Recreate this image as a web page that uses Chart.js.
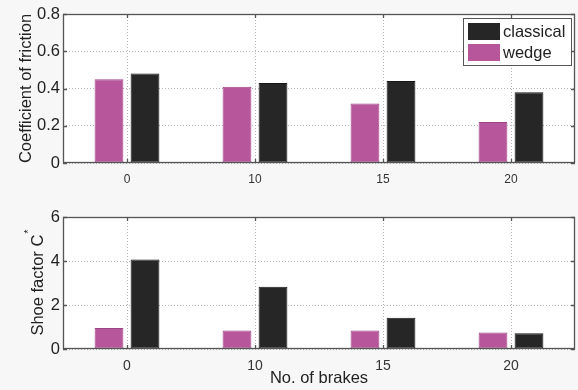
<!DOCTYPE html>
<html>
<head>
<meta charset="utf-8">
<title>Brakes – friction and shoe factor</title>
<script src="https://cdn.jsdelivr.net/npm/chart.js@4.4.1/dist/chart.umd.min.js"></script>
<style>
  html, body { margin: 0; padding: 0; background: #f7f7f7; }
  .wrap { position: relative; width: 578px; height: 390px; }
  canvas { position: absolute; left: 0; }
  #frictionChart { top: 0; }
  #shoeChart { top: 195px; }
</style>
</head>
<body>
<div class="wrap">
  <canvas id="frictionChart" width="578" height="195"></canvas>
  <canvas id="shoeChart" width="578" height="195"></canvas>
</div>
<script>
"use strict";

// ─── Data ─────────────────────────────────────────────────
const brakes            = ["0", "10", "15", "20"];
const frictionWedge     = [0.45, 0.41, 0.32, 0.22];
const frictionClassical = [0.48, 0.43, 0.44, 0.38];
const shoeWedge         = [0.96, 0.84, 0.84, 0.75];
const shoeClassical     = [4.07, 2.83, 1.42, 0.72];
const frictionTicks     = [0, 0.2, 0.4, 0.6, 0.8];
const shoeTicks         = [0, 2, 4, 6];

// ─── Palette ──────────────────────────────────────────────
const COLORS = {
  wedge:     "#b8569c",
  wedgeEdge: "#9a4584",
  classical: "#262626",
  classEdge: "#161616",
  frame:     "#555555",
  grid:      "#b4b4b4",
  text:      "#222222",
};
const FONT = "'Liberation Sans', Arial, sans-serif";

Chart.defaults.font.family = FONT;
Chart.defaults.animation = false;
Chart.defaults.plugins.legend.display = false;
Chart.defaults.plugins.tooltip.enabled = false;

// white plot area, box frame and inward ticks (matlab look)
const framePlugin = {
  id: "frame",
  beforeDraw(chart) {
    const { ctx, chartArea: a } = chart;
    ctx.save();
    ctx.fillStyle = "#fff";
    ctx.fillRect(a.left, a.top, a.width, a.height);
    ctx.restore();
  },
  afterDraw(chart) {
    const { ctx, chartArea: a, scales: { x, y } } = chart;
    ctx.save();
    ctx.strokeStyle = COLORS.frame;
    ctx.lineWidth = 1.3;
    ctx.strokeRect(a.left + 0.5, a.top + 0.5, a.width - 1, a.height - 1);
    ctx.beginPath();
    x.ticks.forEach((t, i) => {
      const px = Math.round(x.getPixelForTick(i)) + 0.5;
      ctx.moveTo(px, a.top); ctx.lineTo(px, a.top + 4);
      ctx.moveTo(px, a.bottom); ctx.lineTo(px, a.bottom - 4);
    });
    y.ticks.forEach((t, i) => {
      const py = Math.round(y.getPixelForTick(i)) + 0.5;
      ctx.moveTo(a.left, py); ctx.lineTo(a.left + 4, py);
      ctx.moveTo(a.right, py); ctx.lineTo(a.right - 4, py);
    });
    ctx.stroke();
    ctx.restore();
  },
};

// axis titles (rotated y title with optional superscript, x title)
const titlePlugin = {
  id: "titles",
  afterDraw(chart, args, opts) {
    const { ctx, chartArea: a } = chart;
    ctx.save();
    ctx.fillStyle = COLORS.text;
    ctx.font = `16.5px ${FONT}`;
    if (opts.y) {
      const w = ctx.measureText(opts.y).width;
      ctx.font = `11px ${FONT}`;
      const sw = opts.sup ? ctx.measureText(opts.sup).width : 0;
      ctx.translate(opts.yx, (a.top + a.bottom) / 2);
      ctx.rotate(-Math.PI / 2);
      ctx.textBaseline = "middle";
      ctx.textAlign = "left";
      const start = -(w + sw) / 2;
      ctx.font = `16.5px ${FONT}`;
      ctx.fillText(opts.y, start, 0);
      if (opts.sup) {
        ctx.font = `11px ${FONT}`;
        ctx.fillText(opts.sup, start + w + 1, -9);
      }
      ctx.setTransform(1, 0, 0, 1, 0, 0);
    }
    if (opts.x) {
      ctx.font = `16.5px ${FONT}`;
      ctx.textAlign = "center";
      ctx.textBaseline = "middle";
      ctx.fillText(opts.x, (a.left + a.right) / 2, opts.xy);
    }
    ctx.restore();
  },
};

// legend box inside the plot, top right
const boxLegendPlugin = {
  id: "boxLegend",
  afterDraw(chart) {
    const { ctx } = chart;
    const items = chart.data.datasets.slice().reverse();
    const bx = 463, by = 18, bw = 108, bh = 47;
    ctx.save();
    ctx.fillStyle = "#fff";
    ctx.fillRect(bx, by, bw, bh);
    ctx.strokeStyle = COLORS.frame;
    ctx.lineWidth = 1;
    ctx.strokeRect(bx + 0.5, by + 0.5, bw, bh);
    ctx.font = `16.5px ${FONT}`;
    ctx.textBaseline = "middle";
    items.forEach((ds, i) => {
      const yy = by + 5 + i * 21;
      ctx.fillStyle = ds.backgroundColor;
      ctx.fillRect(bx + 5, yy, 32, 17);
      ctx.fillStyle = COLORS.text;
      ctx.fillText(ds.label, bx + 40, yy + 9);
    });
    ctx.restore();
  },
};

function barSet(label, data, bg, edge) {
  return {
    label, data,
    backgroundColor: bg,
    borderColor: edge,
    borderWidth: 1,
    borderSkipped: false,
    categoryPercentage: 0.5625,
    barPercentage: 0.8,
  };
}

function axes(yTicks, yWidth, xHeight, xPad, xFont) {
  return {
    x: {
      offset: true,
      grid: { color: COLORS.grid, drawTicks: false, offset: false, lineWidth: 1 },
      border: { display: false, dash: [1, 2] },
      ticks: { color: "#333", padding: xPad, font: xFont },
      afterFit: s => { s.height = xHeight; },
    },
    y: {
      min: yTicks[0],
      max: yTicks[yTicks.length - 1],
      afterBuildTicks: s => { s.ticks = yTicks.map(v => ({ value: v })); },
      grid: { color: COLORS.grid, drawTicks: false, lineWidth: 1 },
      border: { display: false, dash: [1, 2] },
      ticks: {
        color: COLORS.text, padding: 3,
        font: { size: 16.5 },
        callback: v => String(+Number(v).toFixed(1)),
      },
      afterFit: s => { s.width = yWidth; },
    },
  };
}

// ─── 1. COEFFICIENT OF FRICTION ───────────────────────────
(function buildFrictionChart() {
  const ctx = document.getElementById("frictionChart");
  new Chart(ctx, {
    type: "bar",
    data: {
      labels: brakes,
      datasets: [
        barSet("wedge", frictionWedge, COLORS.wedge, COLORS.wedgeEdge),
        barSet("classical", frictionClassical, COLORS.classical, COLORS.classEdge),
      ],
    },
    options: {
      responsive: false,
      layout: { padding: { top: 14, right: 3, left: 0, bottom: 0 } },
      scales: axes(frictionTicks, 63, 32, 9, { size: 12 }),
      plugins: { titles: { y: "Coefficient of friction", yx: 26 } },
    },
    plugins: [framePlugin, titlePlugin, boxLegendPlugin],
  });
})();

// ─── 2. SHOE FACTOR ───────────────────────────────────────
(function buildShoeChart() {
  const ctx = document.getElementById("shoeChart");
  new Chart(ctx, {
    type: "bar",
    data: {
      labels: brakes,
      datasets: [
        barSet("wedge", shoeWedge, COLORS.wedge, COLORS.wedgeEdge),
        barSet("classical", shoeClassical, COLORS.classical, COLORS.classEdge),
      ],
    },
    options: {
      responsive: false,
      layout: { padding: { top: 22, right: 3, left: 0, bottom: 0 } },
      scales: axes(shoeTicks, 63, 41, 9, { size: 14, family: "'Liberation Sans Narrow', " + FONT }),
      plugins: { titles: { y: "Shoe factor C", sup: "*", yx: 38, x: "No. of brakes", xy: 183 } },
    },
    plugins: [framePlugin, titlePlugin],
  });
})();
</script>
</body>
</html>
